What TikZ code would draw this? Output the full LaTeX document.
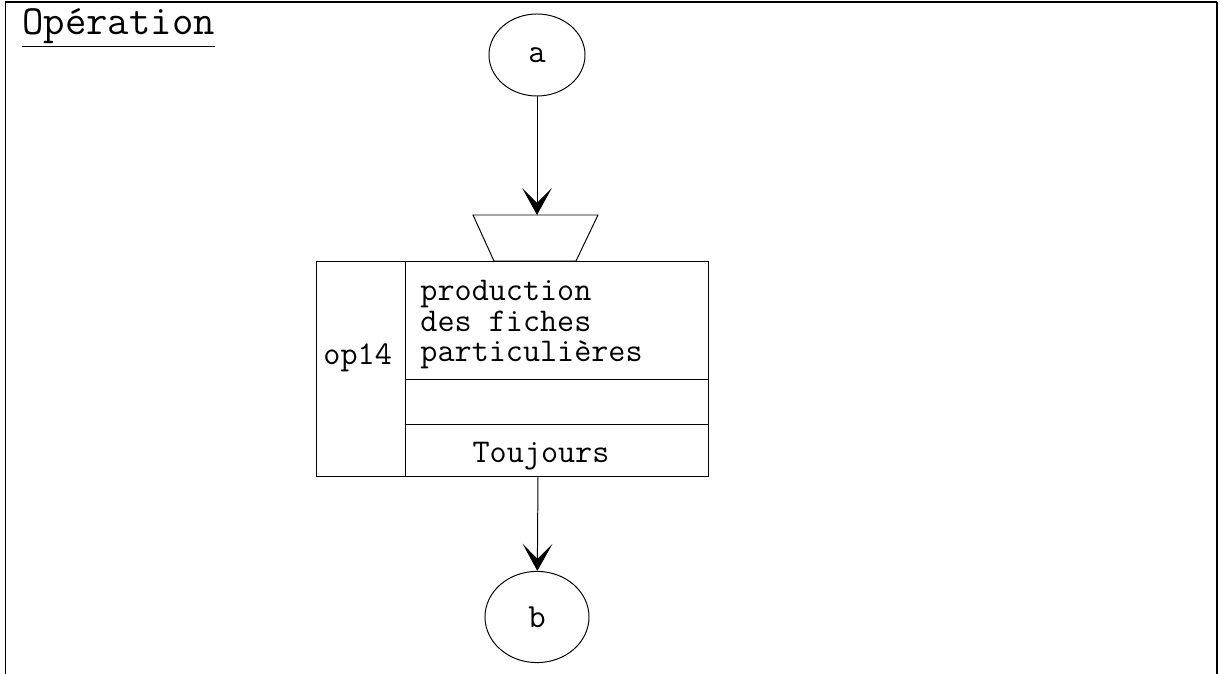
\documentclass[tikz,border=0pt]{standalone}
\usepackage{fontspec}
\usetikzlibrary{shapes.geometric,arrows.meta}
\begin{document}
\begin{tikzpicture}[x=0.025cm,y=-0.025cm,line width=0.7pt,
  bulle/.style={draw,ellipse,inner sep=0pt,font=\ttfamily\fontsize{24}{24}\selectfont},
  fleche/.style={-{Stealth[length=0.68cm,width=0.75cm,inset=0.38cm]}},
  texte/.style={inner sep=0pt,font=\ttfamily\fontsize{23.6}{22}\selectfont}]
\useasboundingbox (0,0) rectangle (1219,674);
\draw[line width=0.6pt] (5,674) -- (5,2);
\draw[line width=1.3pt] (5,2) -- (1217,2);
\draw[line width=0.9pt] (1217,2) -- (1217,674);
\node[anchor=base west,inner sep=0pt,font=\ttfamily\fontsize{29.5}{29.5}\selectfont] (titre) at (22,35) {\underline{Opération}};
% connecteurs d'entree et de sortie
\node[bulle,minimum width=2.4cm,minimum height=2.05cm] (a) at (537,55) {a};
\node[bulle,minimum width=2.6cm,minimum height=2.28cm] (b) at (537,617) {b};
% trapeze d'entree
\draw (473,215) -- (598,215) -- (576,261) -- (494,261) -- cycle;
\coordinate (entree) at (537,215);
% operation
\draw (316,261) rectangle (708,476);
\draw (405,261) -- (405,476);
\draw (405,379) -- (708,379);
\draw (405,424) -- (708,424);
\node[texte,anchor=base west] (op) at (323,365) {op14};
\node[texte,anchor=base west,align=left] (action) at (420,362) {production\\des fiches\\particulières};
\node[texte,anchor=base] (regle) at (541,463) {Toujours};
\coordinate (sortie) at (538,476);
\draw[fleche] (a) -- (entree);
\draw[fleche] (sortie) -- (b);
\end{tikzpicture}
\end{document}
